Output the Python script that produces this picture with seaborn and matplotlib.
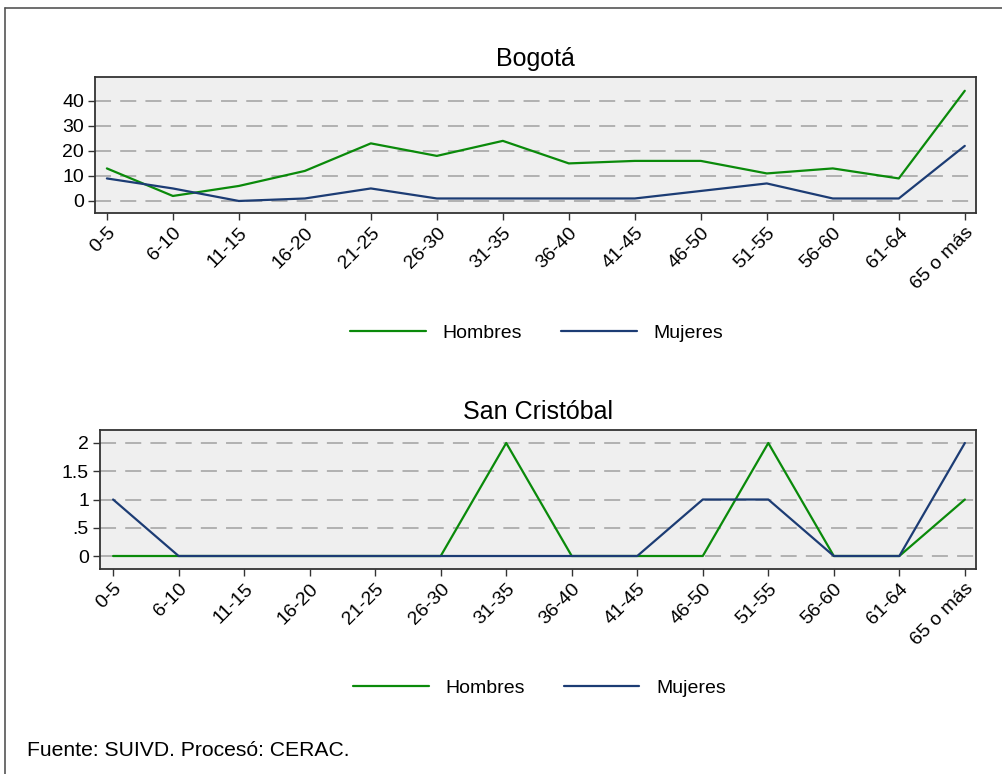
import numpy as np
import pandas as pd
import matplotlib
matplotlib.use("Agg")
import matplotlib.pyplot as plt
from matplotlib.lines import Line2D
import seaborn as sns

# Age groups and counts by sex
grupos = ["0-5", "6-10", "11-15", "16-20", "21-25", "26-30", "31-35",
          "36-40", "41-45", "46-50", "51-55", "56-60", "61-64", "65 o más"]

bogota_hombres = [13, 2, 6, 12, 23, 18, 24, 15, 16, 16, 11, 13, 9, 44]
bogota_mujeres = [9, 5, 0, 1, 5, 1, 1, 1, 1, 4, 7, 1, 1, 22]

sancris_hombres = [0, 0, 0, 0, 0, 0, 2, 0, 0, 0, 2, 0, 0, 1]
sancris_mujeres = [1, 0, 0, 0, 0, 0, 0, 0, 0, 1, 1, 0, 0, 2]

series = ["Hombres", "Mujeres"]
colores = {"Hombres": "#0a8a0a", "Mujeres": "#1c3c74"}


def tabla(hombres, mujeres):
    return pd.DataFrame({
        "grupo": grupos * 2,
        "casos": hombres + mujeres,
        "sexo": [series[0]] * len(grupos) + [series[1]] * len(grupos),
    })


sns.set_theme(style="white")
plt.rcParams["font.family"] = ["Liberation Sans", "DejaVu Sans"]
plt.rcParams["text.color"] = "black"
plt.rcParams["legend.labelcolor"] = "black"

W, H = 1003, 774
fig = plt.figure(figsize=(W / 100, H / 100), dpi=100)
fig.patch.set_facecolor("white")


def px_axes(left, top, right, bottom):
    return fig.add_axes([left / W, 1 - bottom / H, (right - left) / W, (bottom - top) / H])


paneles = [
    dict(titulo="Bogotá", datos=tabla(bogota_hombres, bogota_mujeres),
         caja=(95, 77, 976, 213), ylim=(-4.8, 49.5),
         yticks=[0, 10, 20, 30, 40], ylabels=["0", "10", "20", "30", "40"],
         xlim=(-0.18, 13.17), ley=-0.882),
    dict(titulo="San Cristóbal", datos=tabla(sancris_hombres, sancris_mujeres),
         caja=(100, 430, 976, 569), ylim=(-0.23, 2.23),
         yticks=[0, 0.5, 1, 1.5, 2], ylabels=["0", ".5", "1", "1.5", "2"],
         xlim=(-0.20, 13.17), ley=-0.856),
]

for p in paneles:
    ax = px_axes(*p["caja"])
    ax.set_facecolor("#efefef")
    sns.lineplot(data=p["datos"], x="grupo", y="casos", hue="sexo",
                 hue_order=series, palette=colores, sort=False,
                 linewidth=1.6, ax=ax, zorder=3)
    ax.set_xlim(*p["xlim"])
    ax.set_ylim(*p["ylim"])
    ax.set_yticks(p["yticks"])
    ax.set_yticklabels(p["ylabels"])
    ax.set_xlabel("")
    ax.set_ylabel("")
    ax.yaxis.grid(True, color="#a0a0a0", linestyle=(0, (10.5, 6)), linewidth=1.1, zorder=1)
    ax.xaxis.grid(False)
    ax.set_axisbelow(True)
    for s in ax.spines.values():
        s.set_color("#333333")
        s.set_linewidth(1.3)
    ax.tick_params(axis="both", which="major", direction="out", length=5,
                   width=1, color="#333333", labelsize=14, pad=3,
                   left=True, bottom=True, labelcolor="black")
    plt.setp(ax.get_xticklabels(), rotation=45, ha="right",
             rotation_mode="anchor")
    ax.set_title(p["titulo"], fontsize=18, pad=8, color="black")
    sns.move_legend(ax, loc="center", bbox_to_anchor=(0.5015, p["ley"]),
                    ncol=2, frameon=False, title=None, fontsize=14,
                    handlelength=3.9, handletextpad=0.85, columnspacing=2.0)
    for ln in ax.get_legend().get_lines():
        ln.set_linewidth(1.6)
    for t in ax.get_legend().get_texts():
        t.set_color("black")

# Outer frame of the graph region
fig.add_artist(Line2D([5.5 / W, 5.5 / W], [0, 1 - 7.5 / H], transform=fig.transFigure,
                      color="#555555", linewidth=1.2))
fig.add_artist(Line2D([5.5 / W, 1], [1 - 7.5 / H, 1 - 7.5 / H], transform=fig.transFigure,
                      color="#555555", linewidth=1.2))

fig.text(27 / W, 1 - 756 / H, "Fuente: SUIVD. Procesó: CERAC.", fontsize=15.2,
         ha="left", va="baseline", color="black")

fig.savefig("out.png", dpi=100, facecolor="white")
